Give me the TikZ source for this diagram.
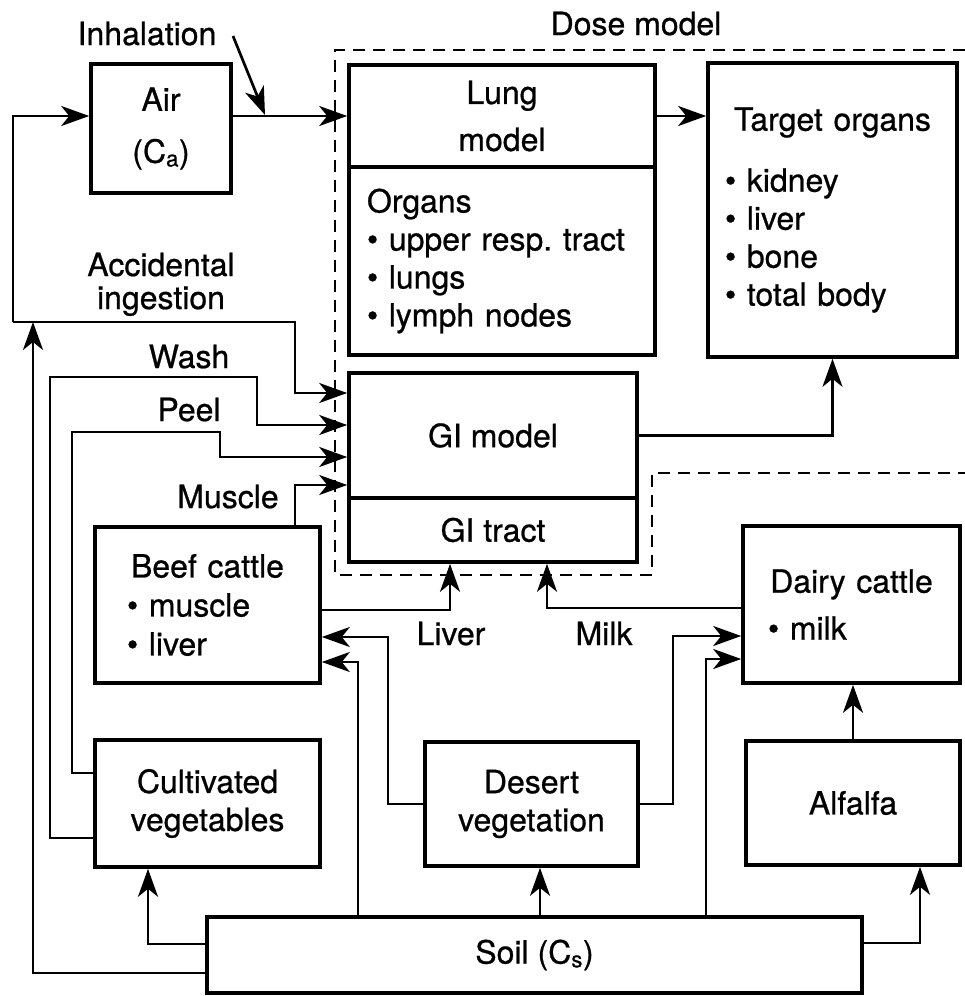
\documentclass[tikz,border=0pt]{standalone}
\usepackage{fontspec}
\setmainfont[UprightFeatures={FakeBold=0.7}]{TeX Gyre Heros}
\usetikzlibrary{arrows.meta}
\newcommand\dgfont{\fontsize{32}{38}\selectfont}
\begin{document}
\begin{tikzpicture}[x=1pt,y=-1pt,
  lab/.style={font=\dgfont,inner sep=0pt},
  box/.style={draw,line width=3.6pt,inner sep=0pt,align=center,font=\dgfont},
  conn/.style={line width=2.7pt},
  arr/.style={conn,-{Stealth[length=28pt,width=20pt,inset=8pt]}},
  dose/.style={line width=2.6pt,dash pattern=on 12pt off 8pt}]
\useasboundingbox (0,0) rectangle (965,996);
\fill[white] (0,0) rectangle (965,996);

% dose model outline
\draw[dose] (965,50) -- (335,50) -- (335,575) -- (652,575) -- (652,473) -- (965,473);
\node[lab,anchor=base] (dosel) at (636,35) {Dose model};

% boxes
\node[box,minimum width=140pt,minimum height=129pt] (air) at (161,128.5) {Air\\[14pt](C\textsubscript{a})};
\node[box,minimum width=306pt,minimum height=102pt] (lungtop) at (502,116) {Lung\\[9pt]model};
\node[box,minimum width=306pt,minimum height=188pt,align=left,text width=270pt,inner xsep=18pt] (lungbot) at (502,261)
  {Organs\\• upper resp.\ tract\\• lungs\\• lymph nodes};
\node[box,minimum width=249pt,minimum height=294pt,align=left,text width=215pt,inner xsep=17pt] (target) at (832.5,210)
  {\makebox[215pt][c]{Target organs}\\[23pt]• kidney\\• liver\\• bone\\• total body};
\node[box,minimum width=288pt,minimum height=125pt] (gitop) at (493,435.5) {GI model};
\node[box,minimum width=288pt,minimum height=64pt] (gibot) at (493,530) {GI tract};
\node[box,minimum width=225pt,minimum height=156pt,align=left,text width=161pt,inner xsep=32pt] (beef) at (207.5,605)
  {\makebox[161pt][c]{Beef cattle}\\[1pt]• muscle\\[1pt]• liver};
\node[box,minimum width=217pt,minimum height=157pt,align=left,text width=167pt,inner xsep=25pt] (dairy) at (851.5,604.5)
  {\makebox[167pt][c]{Dairy cattle}\\[9pt]• milk};
\node[box,minimum width=225pt,minimum height=127pt] (cult) at (207.5,803.5) {Cultivated\\vegetables};
\node[box,minimum width=213pt,minimum height=124pt] (desert) at (531.5,804) {Desert\\vegetation};
\node[box,minimum width=214pt,minimum height=124pt] (alfalfa) at (853,803) {Alfalfa};
\node[box,minimum width=655pt,minimum height=76pt] (soil) at (534.5,955) {Soil (C\textsubscript{s})};

% labels
\node[lab,anchor=base] (inhal) at (147,45) {Inhalation};
\node[lab,anchor=base] (acc1) at (161,276) {Accidental};
\node[lab,anchor=base] (acc2) at (161,309) {ingestion};
\node[lab,anchor=base] (wash) at (189,368) {Wash};
\node[lab,anchor=base] (peel) at (189,421) {Peel};
\node[lab,anchor=base] (musc) at (228,508) {Muscle};
\node[lab,anchor=base] (livl) at (451,645) {Liver};
\node[lab,anchor=base] (milkl) at (604,645) {Milk};

% bend coordinates
\coordinate (jA) at (13,322);
\coordinate (jB) at (295,322);
\coordinate (jS) at (33,322);
\coordinate (w1) at (50,377);
\coordinate (w2) at (257,425);
\coordinate (p1) at (72,432);
\coordinate (p2) at (220,457);
\coordinate (db) at (388,637);
\coordinate (dd) at (673,636);
\coordinate (inh1) at (233,36);
\coordinate (inh2) at (265,115);
\coordinate (ds) at ([xshift=8.5pt]desert.south);

% connectors
\draw[arr] (jA) |- (air.west |- lungtop.west);
\draw[arr] (air.east |- lungtop.west) -- (lungtop.west);
\draw[arr] (inh1) -- (inh2);
\draw[arr] (lungtop.east) -- (target.west |- lungtop.east);
\draw[arr] (gitop.east) -| (target.south);
\draw[arr] (jA) -- (jB) |- ([yshift=42.5pt]gitop.west);
\draw[arr] ([yshift=-18pt]soil.west) -| (jS);
\draw[arr] ([yshift=-34.5pt]cult.west) -| (w1) -| (w2) -- ([yshift=10.5pt]gitop.west);
\draw[arr] ([yshift=30.5pt]cult.west) -| (p1) -| (p2) -- ([yshift=-21.5pt]gitop.west);
\draw[arr] ([xshift=87.5pt]beef.north) |- ([yshift=-49.5pt]gitop.west);
\draw[arr] ([yshift=-5pt]beef.east) -| ([xshift=-43pt]gibot.south);
\draw[arr] ([yshift=-3.5pt]dairy.west) -| ([xshift=54pt]gibot.south);
\draw[arr] (desert.west) -| (db) -- ([yshift=-32pt]beef.east);
\draw[arr] ([xshift=-176.5pt]soil.north) |- ([yshift=-57pt]beef.east);
\draw[arr] ([yshift=11pt]soil.west) -| ([xshift=-59.5pt]cult.south);
\draw[arr] (ds |- soil.north) -- (ds);
\draw[arr] (desert.east) -| (dd) -- ([yshift=-31.5pt]dairy.west);
\draw[arr] ([xshift=171.5pt]soil.north) |- ([yshift=-54.5pt]dairy.west);
\draw[arr] (alfalfa.north) -- (alfalfa.north |- dairy.south);
\draw[arr] ([yshift=12pt]soil.east) -| ([xshift=67pt]alfalfa.south);
\end{tikzpicture}
\end{document}
